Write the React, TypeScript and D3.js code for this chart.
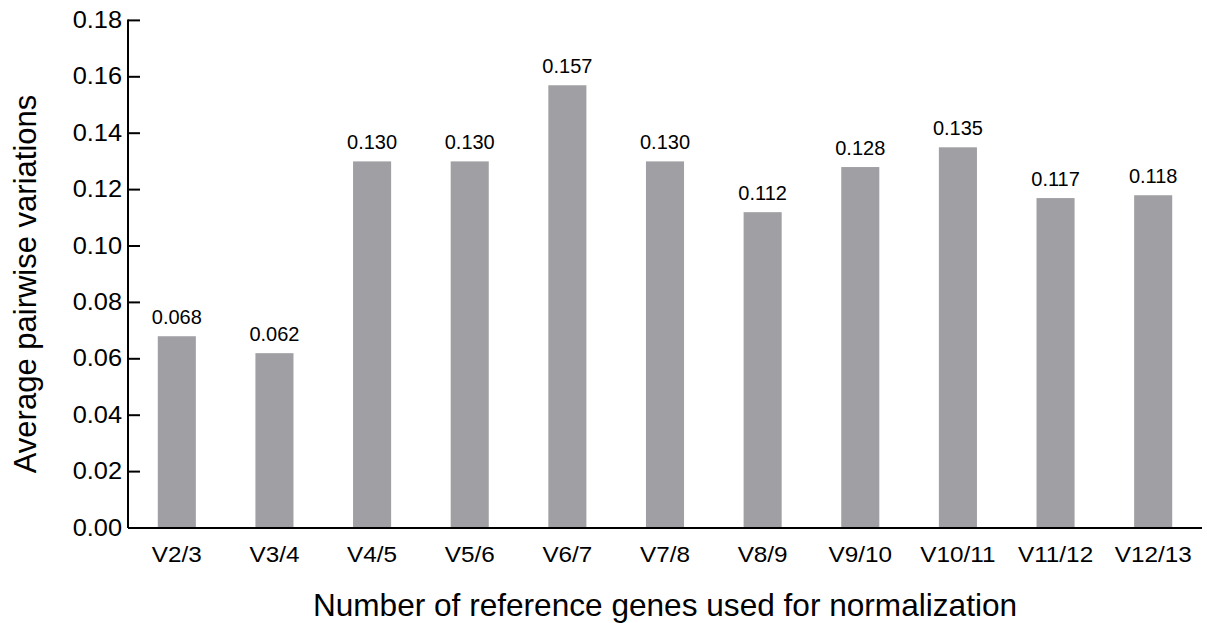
import React from "react";
import * as d3 from "d3";

const categories = ["V2/3", "V3/4", "V4/5", "V5/6", "V6/7", "V7/8", "V8/9", "V9/10", "V10/11", "V11/12", "V12/13"];
const values = [0.068, 0.062, 0.130, 0.130, 0.157, 0.130, 0.112, 0.128, 0.135, 0.117, 0.118];
const yTicks = [0, 0.02, 0.04, 0.06, 0.08, 0.10, 0.12, 0.14, 0.16, 0.18];
const yTitle = "Average pairwise variations";
const xTitle = "Number of reference genes used for normalization";

const W = 1207;
const H = 623;
const left = 128;
const right = 1202;
const top = 20.4;
const bottom = 528;

export default function App() {
  const x = d3.scaleBand<string>().domain(categories).range([left, right]).paddingInner(0.61).paddingOuter(0.305);
  const y = d3.scaleLinear().domain([0, 0.18]).range([bottom, top]);
  const fmt = d3.format(".2f");
  const fmt3 = d3.format(".3f");
  const font = "Liberation Sans, Arial, Helvetica, sans-serif";
  return (
    <svg width={W} height={H} style={{ position: "absolute", left: 0, top: 0 }} fontFamily={font}>
      <rect x={0} y={0} width={W} height={H} fill="#fff" />
      {categories.map((c, i) => (
        <g key={c}>
          <rect x={x(c)} y={y(values[i])} width={x.bandwidth()} height={bottom - y(values[i])} fill="#a0a0a4" />
          <text
            transform={`translate(${(x(c) as number) + x.bandwidth() / 2},${y(values[i]) - 12})`}
            textAnchor="middle"
            fontSize={20}
            fill="#000"
          >
            {fmt3(values[i])}
          </text>
          <text
            transform={`translate(${(x(c) as number) + x.bandwidth() / 2},${562}) scale(1.08,1)`}
            textAnchor="middle"
            fontSize={22.5}
            fill="#000"
          >
            {c}
          </text>
        </g>
      ))}
      <line x1={left} x2={right} y1={bottom} y2={bottom} stroke="#000" strokeWidth={2} />
      <line x1={left} x2={left} y1={bottom} y2={top - 1} stroke="#000" strokeWidth={2} />
      {yTicks.map((t) => (
        <g key={t}>
          <line x1={left} x2={left + 12} y1={y(t)} y2={y(t)} stroke="#000" strokeWidth={2} />
          <text
            transform={`translate(${122},${y(t) + 7.5}) scale(1.08,1)`}
            textAnchor="end"
            fontSize={23.5}
            fill="#000"
          >
            {fmt(t)}
          </text>
        </g>
      ))}
      <text transform={`translate(36,284) rotate(-90)`} textAnchor="middle" fontSize={31} fill="#000">
        {yTitle}
      </text>
      <text x={665} y={616} textAnchor="middle" fontSize={31.6} fill="#000">
        {xTitle}
      </text>
    </svg>
  );
}
